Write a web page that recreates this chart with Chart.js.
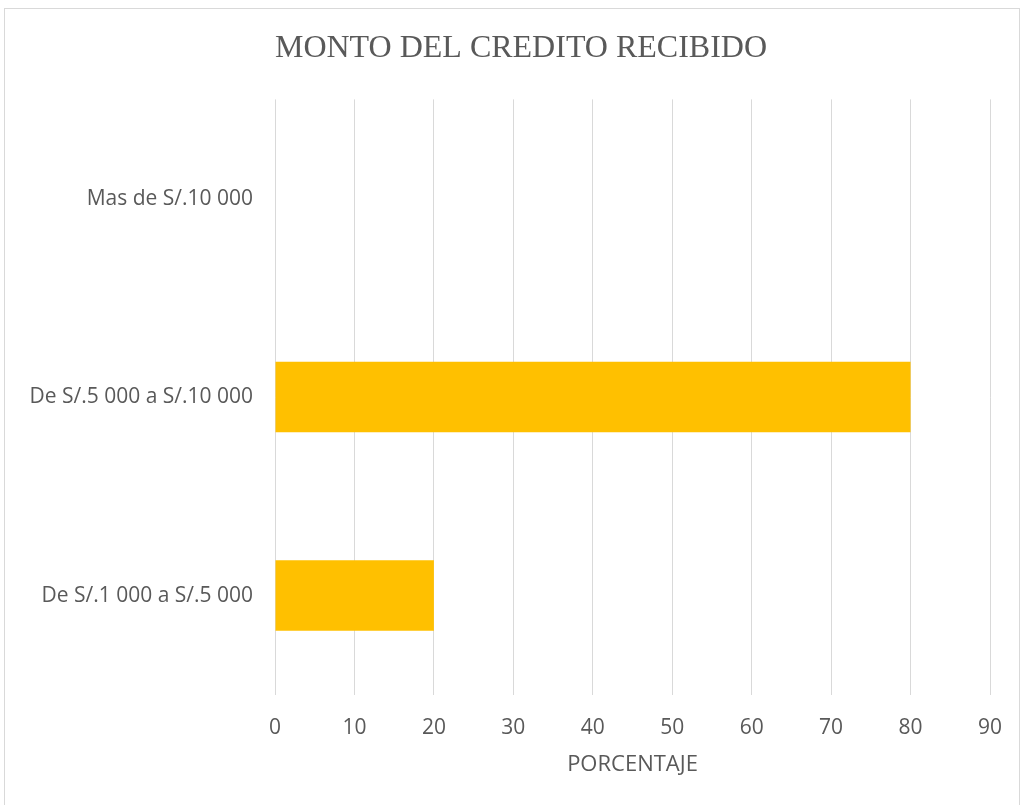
<!DOCTYPE html>
<html>
<head>
<meta charset="utf-8">
<script src="https://cdn.jsdelivr.net/npm/chart.js@4"></script>
<style>
  html, body { margin: 0; padding: 0; background: #fff; }
  #frame { position: absolute; left: 4px; top: 8px; width: 1016px; height: 820px; border: 1px solid #d9d9d9; box-sizing: border-box; }
  #wrap { position: absolute; left: 0; top: 0; width: 1022px; height: 805px; }
</style>
</head>
<body>
<div id="frame"></div>
<div id="wrap"><canvas id="creditChart" width="1022" height="805"></canvas></div>
<script>
// categories from top to bottom, as shown
const categories = ["Mas de S/.10 000", "De S/.5 000 a S/.10 000", "De S/.1 000 a S/.5 000"];
const percentages = [0, 80, 20]; // porcentaje
const xTicks = [0, 10, 20, 30, 40, 50, 60, 70, 80, 90];

const textColor = "#595959";
const sans = "'Open Sans', sans-serif";

const config = {
  type: "bar",
  data: {
    labels: categories,
    datasets: [
      {
        label: "Porcentaje",
        data: percentages,
        backgroundColor: "#ffc000",
        borderWidth: 0,
        categoryPercentage: 1,
        barPercentage: 0.355,
      },
    ],
  },
  options: {
    indexAxis: "y",
    responsive: false,
    animation: false,
    layout: { padding: { top: 29, right: 0, bottom: 29, left: 20 } },
    plugins: {
      legend: { display: false },
      tooltip: { enabled: false },
      title: {
        display: true,
        text: "MONTO DEL CREDITO RECIBIDO",
        color: textColor,
        font: { family: "'Liberation Serif', 'DejaVu Serif', serif", size: 32, weight: "normal" },
        padding: { top: 0, bottom: 32 },
      },
    },
    scales: {
      x: {
        min: 0,
        max: 90,
        afterBuildTicks: (axis) => { axis.ticks = xTicks.map((v) => ({ value: v })); },
        afterFit: (axis) => { axis.paddingRight = 32; },
        grid: { color: "#d9d9d9", lineWidth: 1, drawTicks: false },
        border: { display: false },
        ticks: { color: textColor, padding: 21, font: { family: sans, size: 21 } },
        title: {
          display: true,
          text: "PORCENTAJE",
          color: textColor,
          font: { family: sans, size: 22, lineHeight: 1 },
          padding: { top: -8, bottom: 0 },
        },
      },
      y: {
        grid: { display: false, drawTicks: false },
        border: { display: false },
        ticks: { color: textColor, padding: 22, font: { family: sans, size: 21 } },
        afterFit: (axis) => { axis.width = 255; },
      },
    },
  },
};

const creditChart = new Chart(document.getElementById("creditChart"), config);
</script>
</body>
</html>
